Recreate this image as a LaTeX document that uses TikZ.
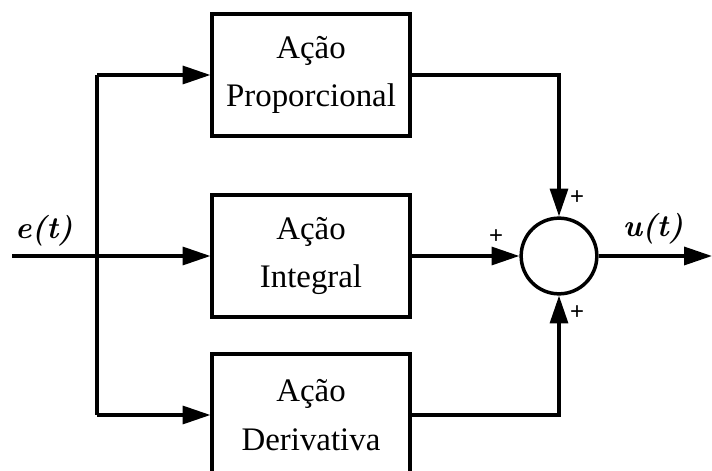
\documentclass[tikz,border=0pt]{standalone}
\usepackage{fontspec}
\newfontfamily\boxfont{Liberation Serif}
\newfontfamily\plusfont{Liberation Sans}
\usetikzlibrary{arrows.meta}
\tikzset{
  blk/.style={draw, line width=3.8pt, minimum width=198pt, minimum height=123pt, align=center, inner sep=0pt,
    font=\boxfont\fontsize{33}{49}\selectfont},
  sumc/.style={draw, circle, line width=3.5pt, minimum size=76pt, inner sep=0pt},
  wire/.style={line width=3.5pt},
  arr/.style={wire, -{Triangle[length=28pt,width=18pt]}},
  sig/.style={font=\fontsize{31}{36}\selectfont\bfseries\itshape, inner sep=0pt},
  pl/.style={font=\plusfont\fontsize{24}{26}\selectfont, inner sep=0pt}
}
\begin{document}
\begin{tikzpicture}[x=1bp,y=-1bp]
\useasboundingbox (0,0) rectangle (712,471);
\node[blk] (p) at (311,75) {Ação\\Proporcional};
\node[blk] (i) at (311,256) {Ação\\Integral};
\node[blk] (d) at (311,415) {Ação\\Derivativa};
\node[sumc] (s) at (559,256) {};
\coordinate (in) at (12,256);
\coordinate (out) at (712,256);
\coordinate (bt) at (97,75);
\coordinate (bb) at (97,415);
\draw[wire] (bt) -- (bb);
\draw[arr] (bt) -- (p.west);
\draw[arr] (in) -- (i.west);
\draw[arr] (bb) -- (d.west);
\draw[arr] (p.east) -| (s.north);
\draw[arr] (i.east) -- (s.west);
\draw[arr] (d.east) -| (s.south);
\draw[arr] (s.east) -- (out);
\node[sig] (e) at (44,231) {e(t)};
\node[sig] (u) at (653,229) {u(t)};
\node[pl] (p1) at (577,198) {+};
\node[pl] (p2) at (496,237) {+};
\node[pl] (p3) at (577,313) {+};
\end{tikzpicture}
\end{document}
